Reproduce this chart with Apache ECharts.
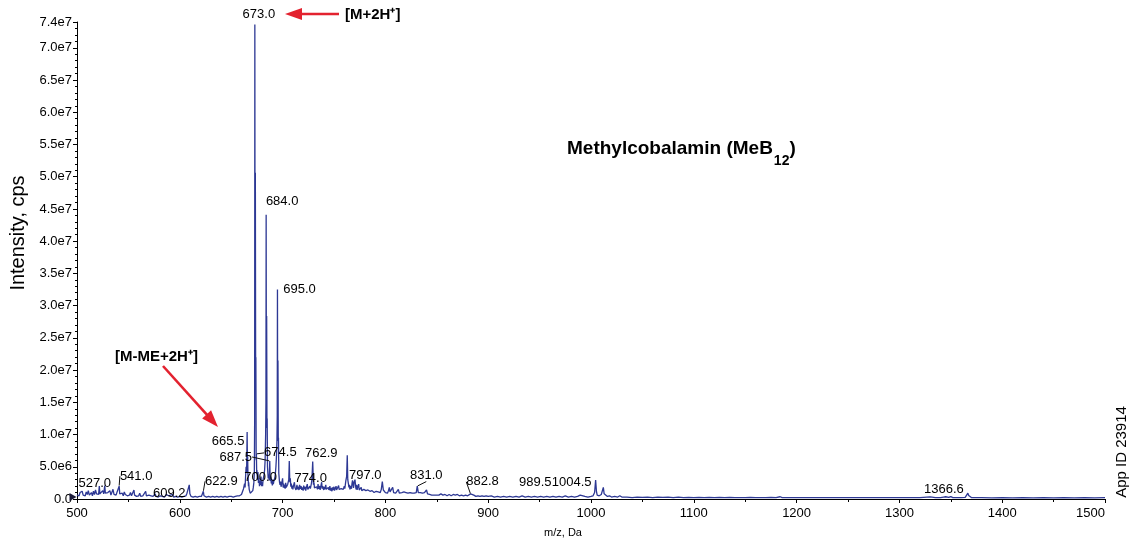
<!DOCTYPE html>
<html>
<head>
<meta charset="utf-8">
<script src="https://cdn.jsdelivr.net/npm/echarts@6/dist/echarts.min.js"></script>
<style>
  html, body { margin: 0; padding: 0; background: #fff; }
  #chart { width: 1130px; height: 539px; }
</style>
</head>
<body>
<div id="chart"></div>
<script>
// profile spectrum, [m/z, intensity in 1e6 cps]
const lowMassProfile = [
  [500,0.6],[501,0.9],[502,0.5],[503,1.0],[504,0.7],[505,1.2],[506,0.6],[507,0.9],[508,0.5],[509,1.1],
  [510,0.7],[511,1.3],[512,0.6],[513,0.8],[514,1.0],[515,0.5],[516,1.2],[517,0.7],[518,1.4],[519,0.8],
  [520,1.0],[521,0.7],[521.7,2.0],[522.3,0.8],[523,1.1],[524,0.6],[525,1.3],[526,0.8],[527,2.1],[527.6,0.9],
  [528,1.2],[529,0.6],[530,1.0],[531,0.7],[532,1.3],[533,0.6],[534,0.9],[535,1.5],[536,0.7],[537,1.0],
  [538,0.6],[539,1.1],[540,0.8],[541,2.0],[541.6,0.8],[542,1.0],[543,0.6],[544,0.9],[545,0.5],[546,1.1],
  [547,0.7],[548,1.0],[549,0.5],[550,0.8],[551,0.6],[552,1.0],[553,0.5],[554,0.8],[555.4,1.4],[556,0.6],
  [557,0.8],[558,0.4],[559,0.7],[560,0.5],[561,0.9],[562,0.4],[563,0.7],[564,0.5],[565,0.8],[566.8,1.2],
  [567.5,0.5],[568,0.7],[569,0.4],[570,0.6],[571,0.9],[572,0.5],[573,0.7],[574,0.4],[575,0.6],[576,0.8],
  [577,0.4],[578,0.6],[579,0.3],[580,0.6],[581,0.5],[582,0.8],[583,0.4],[584,0.6],[585,0.3],[586,0.5],
  [587,0.7],[588,0.4],[589,0.5],[590,0.3],[591,0.6],[592,0.4],[593,0.7],[594,0.3],[595,0.5],[596,0.4],
  [597,0.6],[598,0.3],[599,0.5],[600,0.4],[601,0.6],[602,0.3],[603,0.5],[604,0.4],[605,0.6],[606,0.5],
  [607,0.9],[608,0.7],[609.2,2.2],[609.8,0.8],[610,0.6],[611,0.4],[612,0.6],[613,0.3],[614,0.5],[615,0.4],
  [616,0.6],[617,0.3],[618,0.5],[619,0.4],[620,0.6],[621,0.4],[622,0.5],[622.9,1.2],[623.5,0.5],[624,0.4],
  [625,0.6],[626,0.3],[627,0.5],[628,0.4],[629,0.6],[630,0.3],[631,0.5],[632,0.4],[633,0.6],[634,0.3],
  [635,0.5],[636,0.4],[637,0.5],[638,0.3],[639,0.6],[640,0.4],[641,0.5],[642,0.3],[643,0.6],[644,0.4],
  [645,0.5],[646,0.3],[647,0.6],[648,0.4],[649,0.5],[650,0.4],[651,0.6],[652,0.3],[653,0.5],[654,0.4],
  [655,0.6],[656,0.5],[657,0.7],[658,0.5],[659,0.8],[660,0.7]
];

const clusterProfile = [
  [661,1.0],[662,1.6],[663,2.4],[663.5,1.8],[664,3.5],[664.5,5.0],[665,4.2],[665.5,10.4],[665.8,5.5],[666,6.6],
  [666.3,3.8],[666.5,3.4],[666.8,2.0],[667,2.6],[667.5,1.5],[668,1.2],[668.5,0.9],[669,1.1],[670,0.9],[671,1.3],
  [671.5,1.8],[672,2.5],[672.5,4.0],[672.8,12],[673,73.6],[673.2,30],[673.5,50.6],[673.8,18],[674,22],[674.3,6],
  [674.5,7.0],[674.8,4],[675,4.5],[675.5,3.0],[676,4.2],[676.5,2.5],[677,3.3],[677.5,2.0],[678,2.8],[678.5,2.2],
  [679,3.5],[679.5,2.0],[680,2.6],[680.5,2.0],[681,3.0],[681.5,2.8],[682,3.8],[682.5,4.5],[683,6],[683.5,10],
  [683.8,15],[684,44.1],[684.2,20],[684.5,28.4],[684.8,11],[685,12.5],[685.3,5],[685.5,5.0],[686,3.2],[686.5,3.8],
  [687,2.9],[687.5,5.9],[688,2.8],[688.5,3.5],[689,2.4],[689.5,2.9],[690,2.1],[690.5,3.0],[691,2.3],[691.5,2.8],
  [692,2.6],[692.5,3.3],[693,4.0],[693.5,5],[694,6.5],[694.5,9],[694.8,13],[695,32.5],[695.2,14],[695.5,21.5],
  [695.8,9],[696,9.5],[696.3,4],[696.5,4.2],[697,2.6],[697.5,2.2],[698,2.7],[698.5,1.9],[699,2.3],[699.5,2.0],
  [700,3.2],[700.5,1.8]
];

const midMassProfile = [
  [701,2.4],[701.5,1.7],[702,2.2],[702.5,1.6],[703,2.5],[703.5,1.8],[704,2.0],[704.5,1.5],[705,2.3],[705.5,2.5],
  [706,3.0],[706.5,5.9],[707,2.6],[707.5,3.2],[708,1.9],[708.5,2.4],[709,1.6],[709.5,2.1],[710,1.5],[710.5,2.0],
  [711,1.7],[711.5,2.6],[712,1.8],[712.5,2.0],[713,1.4],[714,2.2],[714.5,1.5],[715,1.9],[716,1.4],[716.5,2.2],
  [717,1.6],[718,2.0],[718.5,1.4],[719,1.8],[720,1.3],[720.5,2.1],[721,1.5],[722,1.9],[722.5,1.3],[723,1.7],
  [724,2.3],[724.5,1.5],[725,1.8],[726,1.4],[726.5,2.0],[727,1.6],[728,2.4],[728.5,3.0],[729.3,5.8],[730,2.2],
  [730.5,2.6],[731,1.7],[732,2.0],[732.5,1.4],[733,1.9],[734,1.5],[734.5,2.3],[735,1.6],[736,2.0],[736.5,1.4],
  [737,1.8],[738,2.6],[738.5,1.6],[739,2.0],[740,1.4],[740.5,1.9],[741,1.5],[742,2.2],[742.5,1.5],[743,1.7],
  [744,1.3],[744.5,1.8],[745,1.4],[746,2.0],[746.5,1.3],[747,1.7],[748,1.2],[748.5,1.8],[749,1.4],[750,1.9],
  [750.5,1.3],[751,1.6],[752,2.0],[752.5,1.4],[753,1.7],[754,1.2],[754.5,2.1],[755,1.5],[756,1.8],[756.5,1.3],
  [757,1.6],[758,1.3],[758.5,1.9],[759,1.5],[760,2.0],[760.5,1.6],[761,2.2],[761.5,2.8],[762.3,3.5],[762.9,6.8],
  [763.4,3.0],[764,2.4],[764.5,1.8],[765,2.2],[765.5,1.5],[766,2.0],[767,1.6],[767.5,2.4],[768,2.9],[768.6,2.2],
  [769,1.7],[769.5,2.6],[770.4,3.0],[771,2.0],[771.5,1.5],[772,2.2],[772.5,1.4],[773,1.8],[774,2.3],[774.5,1.4],
  [775,1.7],[776,1.2],[776.5,1.8],[777,1.3],[778,1.6],[778.5,1.1],[779,1.5],[780,1.2],[780.5,1.7],[781,1.3],
  [782,1.5],[782.5,1.0],[783,1.4],[784,1.1],[784.5,1.6],[785,1.2],[786,1.4],[786.5,1.0],[787,1.3],[788,1.1],
  [788.5,1.5],[789,1.0],[790,1.3],[790.5,1.0],[791,1.2],[792,1.0],[792.5,1.4],[793,1.1],[794,1.3],[795,1.0],
  [796,1.5],[796.5,1.8],[797,2.7],[798,1.4],[798.5,1.1],[799,1.3],[800,1.0]
];

const highMassProfile = [
  [801,1.2],[802,0.9],[803,1.3],[803.8,1.8],[804.5,1.1],[805,1.2],[806,0.9],[807.1,1.8],[808,1.0],[809,1.2],
  [810,0.9],[811,1.1],[812.6,1.5],[813.5,0.9],[814,1.1],[815,0.8],[816,1.0],[817,0.8],[818,1.1],[819,0.8],
  [820,1.0],[821,0.7],[822,0.9],[823,0.7],[824,1.0],[825,0.7],[826,0.9],[827,0.7],[828,0.9],[829,0.8],
  [830,1.0],[831,2.0],[832,1.0],[833,0.8],[834,1.0],[835,0.7],[836,0.9],[837,0.7],[838,1.0],[839,0.8],
  [840,1.4],[841,0.8],[842,0.9],[843,0.7],[844,0.9],[845,0.6],[846,0.8],[847,0.6],[848,0.8],[849,0.6],
  [850,0.8],[852,0.6],[854,0.8],[856,0.6],[858,0.7],[860,0.5],[862,0.7],[864,0.5],[866,0.7],[868,0.6],
  [870,0.7],[872,0.5],[874,0.6],[876,0.5],[878,0.6],[880,0.5],[882.8,0.8],[884,0.5],[886,0.6],[888,0.4],
  [890,0.5],[892,0.4],[894,0.5],[896,0.4],[898,0.5],[900,0.4],[903,0.5],[906,0.3],[909,0.4],[912,0.3],
  [915,0.4],[918,0.3],[921,0.4],[924,0.3],[927,0.4],[930,0.3],[933,0.5],[936,0.3],[939,0.4],[942,0.3],
  [945,0.4],[948,0.3],[951,0.4],[954,0.3],[957,0.4],[960,0.3],[963,0.4],[966,0.3],[969,0.4],[972,0.3],
  [975,0.5],[978,0.3],[981,0.4],[984,0.3],[987,0.4],[989.5,0.6],[991,0.3],[994,0.4],[997,0.3],[1000,0.4],
  [1002,0.5],[1003.5,1.0],[1004.5,2.95],[1005.3,1.2],[1006,0.6],[1008,0.5],[1010,0.7],[1011,1.0],[1012,1.8],[1012.8,0.8],
  [1014,0.5],[1016,0.4],[1018,0.5],[1020,0.3],[1023,0.4],[1026,0.3],[1028,0.5],[1030,0.3],[1035,0.3],[1040,0.2],
  [1045,0.3],[1050,0.25],[1055,0.3],[1060,0.2],[1065,0.3],[1070,0.25],[1075,0.3],[1080,0.2],[1085,0.3],[1090,0.2],
  [1095,0.25],[1100,0.2],[1105,0.25],[1110,0.2],[1115,0.25],[1120,0.2],[1125,0.25],[1130,0.2],[1135,0.25],[1140,0.2],
  [1145,0.22],[1150,0.2],[1155,0.25],[1160,0.2],[1165,0.22],[1170,0.2],[1175,0.25],[1180,0.22],[1184,0.35],[1186,0.2],
  [1190,0.22],[1195,0.2],[1200,0.22],[1205,0.2],[1210,0.2],[1220,0.22],[1230,0.2],[1240,0.2],[1250,0.22],[1260,0.2],
  [1270,0.2],[1280,0.22],[1290,0.2],[1300,0.2],[1310,0.22],[1320,0.2],[1330,0.32],[1335,0.2],[1340,0.22],[1343,0.3],
  [1344,0.5],[1345,0.35],[1346.5,0.3],[1348,0.25],[1350,0.38],[1352,0.22],[1356,0.2],[1360,0.22],[1364,0.25],[1365.5,0.4],
  [1366.6,0.9],[1367.4,0.55],[1368.5,0.3],[1370,0.22],[1375,0.2],[1380,0.2],[1390,0.18],[1400,0.2],[1410,0.18],[1420,0.2],
  [1430,0.18],[1440,0.2],[1450,0.18],[1460,0.2],[1470,0.18],[1480,0.2],[1490,0.18],[1500,0.2]
];

// annotated peaks
const peakLabels = ['673.0','684.0','695.0','665.5','687.5','674.5','762.9','700.0','774.0','797.0',
                    '831.0','882.8','989.5','1004.5','1366.6','527.0','541.0','609.2','622.9'];
const leaderLabels = ['541.0','622.9','674.5','687.5','831.0','882.8'];

// axis ticks
const mzMin = 500, mzMax = 1500, mzStep = 100;
const intMax = 7.4e7, intStep = 5e6;

// where each peak label sits relative to its peak top (px)
const labelNudge = {
  '673.0':[4,-10], '684.0':[16,-13], '695.0':[22,0], '665.5':[-19,9], '687.5':[-34,-4],
  '674.5':[24,-1], '762.9':[-26,-2], '700.0':[-22,-1], '774.0':[-48,-6], '797.0':[-17,-6],
  '831.0':[9,-11], '882.8':[12,-12], '989.5':[-45,-13], '1004.5':[-24,2], '1366.6':[-24,-4],
  '527.0':[-10,-2], '541.0':[17,-10], '609.2':[-20,9], '622.9':[18,-10]
};

const FONT = '"Liberation Sans", Arial, Helvetica, sans-serif';
const TRACE = '#2d3894';
const RED = '#e3222f';
const INK = '#000';

const spectrum = lowMassProfile.concat(clusterProfile, midMassProfile, highMassProfile)
  .map(([mz, i]) => [mz, i * 1e6]);

// peak top: profile point closest to the labelled m/z
function peakTop(label) {
  const m = parseFloat(label);
  let best = spectrum[0];
  spectrum.forEach(p => {
    if (Math.abs(p[0] - m) < Math.abs(best[0] - m)) best = p;
  });
  return best;
}

const labelPoints = peakLabels.map(l => ({
  value: peakTop(l),
  name: l,
  labelLine: { show: leaderLabels.indexOf(l) >= 0 }
}));

function fmtInt(v) {
  if (v === 0) return '0.0';
  return v.toExponential(1).replace('+', '');
}

function arrow(tail, tip) {
  const dx = tip[0] - tail[0], dy = tip[1] - tail[1];
  const len = Math.hypot(dx, dy), ux = dx / len, uy = dy / len;
  const headLen = 17, half = 6;
  const bx = tip[0] - ux * headLen, by = tip[1] - uy * headLen;
  return [
    { type: 'line', silent: true,
      shape: { x1: tail[0], y1: tail[1], x2: bx + ux * 2, y2: by + uy * 2 },
      style: { stroke: RED, lineWidth: 2.6 } },
    { type: 'polygon', silent: true,
      shape: { points: [tip, [bx - uy * half, by + ux * half], [bx + uy * half, by - ux * half]] },
      style: { fill: RED } }
  ];
}

// title with subscript, measured so the pieces butt together
const measure = document.createElement('canvas').getContext('2d');
const titleFont = 'bold 19px ' + FONT;
const subFont = 'bold 14px ' + FONT;
measure.font = titleFont;
const titleMain = 'Methylcobalamin (MeB';
const titleX = 567, titleY = 149;
const mainW = measure.measureText(titleMain).width;
measure.font = subFont;
const subW = measure.measureText('12').width;

const graphic = [].concat(
  arrow([339, 14], [285, 14]),
  arrow([163, 366], [218, 427]),
  [
    { type: 'text', x: 345, y: 15, silent: true,
      style: { text: '[M+2H\u207A]', font: 'bold 15px ' + FONT, fill: INK, textVerticalAlign: 'middle' } },
    { type: 'text', x: 115, y: 357, silent: true,
      style: { text: '[M-ME+2H\u207A]', font: 'bold 15px ' + FONT, fill: INK, textVerticalAlign: 'middle' } },
    { type: 'text', x: titleX, y: titleY, silent: true,
      style: { text: titleMain, font: titleFont, fill: INK, textVerticalAlign: 'middle' } },
    { type: 'text', x: titleX + mainW + 1, y: titleY + 12, silent: true,
      style: { text: '12', font: subFont, fill: INK, textVerticalAlign: 'middle' } },
    { type: 'text', x: titleX + mainW + subW + 1, y: titleY, silent: true,
      style: { text: ')', font: titleFont, fill: INK, textVerticalAlign: 'middle' } },
    { type: 'text', x: 1122, y: 452, rotation: Math.PI / 2, silent: true,
      style: { text: 'App ID 23914', font: '15px ' + FONT, fill: INK, textAlign: 'center', textVerticalAlign: 'middle' } }
  ]
);

const chart = echarts.init(document.getElementById('chart'), null, { renderer: 'canvas' });

chart.setOption({
  animation: false,
  backgroundColor: '#fff',
  textStyle: { fontFamily: FONT },
  grid: { left: 77, right: 25, top: 22, bottom: 40, containLabel: false, outerBoundsMode: 'none' },
  xAxis: {
    type: 'value',
    min: mzMin, max: mzMax, interval: mzStep,
    name: 'm/z, Da',
    nameLocation: 'middle',
    nameGap: 28,
    nameTextStyle: { fontSize: 11, color: INK, padding: [0, 56, 0, 0] },
    axisLine: { lineStyle: { color: '#000', width: 1 } },
    axisTick: { show: true, length: 4, lineStyle: { color: '#000' } },
    minorTick: { show: true, splitNumber: 2, length: 3, lineStyle: { color: '#000' } },
    splitLine: { show: false },
    axisLabel: { fontSize: 13, color: INK, margin: 8, alignMaxLabel: 'right', formatter: v => String(v) }
  },
  yAxis: {
    type: 'value',
    min: 0, max: intMax, interval: intStep,
    name: 'Intensity, cps',
    nameLocation: 'middle',
    nameGap: 47,
    nameRotate: 90,
    nameTextStyle: { fontSize: 20, color: INK, padding: [0, 0, 0, 55] },
    axisLine: { show: true, lineStyle: { color: '#000', width: 1 } },
    axisTick: { show: true, length: 4, lineStyle: { color: '#000' } },
    minorTick: { show: true, splitNumber: 5, length: 2, lineStyle: { color: '#000' } },
    splitLine: { show: false },
    axisLabel: { fontSize: 13, color: INK, margin: 5, formatter: fmtInt }
  },
  graphic: graphic,
  series: [
    {
      type: 'line',
      data: spectrum,
      showSymbol: false,
      symbol: 'none',
      sampling: null,
      clip: true,
      silent: true,
      lineStyle: { color: TRACE, width: 1.3 },
      markPoint: {
        silent: true,
        symbol: 'triangle',
        symbolSize: [8, 7],
        symbolRotate: -90,
        symbolOffset: [-4, -2],
        itemStyle: { color: '#1b1b3a' },
        label: { show: false },
        data: [{ coord: [mzMin, 0] }]
      }
    },
    {
      type: 'scatter',
      data: labelPoints,
      symbolSize: 1,
      silent: true,
      z: 5,
      itemStyle: { color: 'rgba(0,0,0,0)' },
      emphasis: { disabled: true },
      label: {
        show: true,
        position: 'inside',
        formatter: p => p.name,
        fontSize: 13,
        color: INK,
        opacity: 1,
        textBorderWidth: 0
      },
      labelLine: { lineStyle: { color: '#111', width: 1 } },
      labelLayout: p => {
        const n = labelNudge[peakLabels[p.dataIndex]] || [0, 0];
        return { dx: n[0], dy: n[1] };
      }
    }
  ]
});
</script>
</body>
</html>
